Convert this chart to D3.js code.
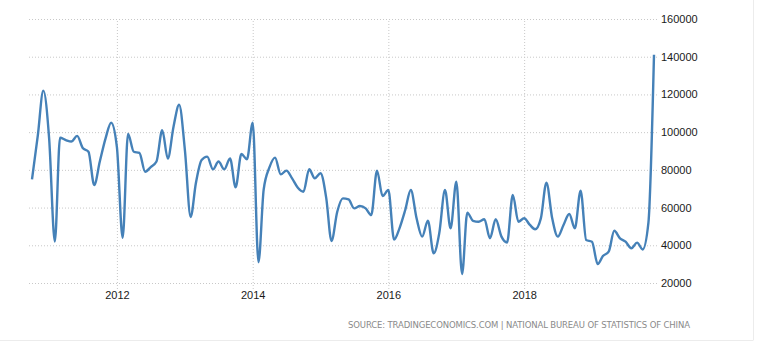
<!DOCTYPE html>
<html>
<head>
<meta charset="utf-8">
<script src="https://cdn.jsdelivr.net/npm/d3@7"></script>
<style>
  html, body { margin: 0; padding: 0; background: #fff; }
  svg { display: block; }
</style>
</head>
<body>
<div id="chart"></div>
<script>
// ---- Data: monthly values, Oct 2010 .. Dec 2019 ---------------------------
const startMonth = '2010-10';
const values = [
  75000, 98000, 122000, 97000, 42000, 97000, 95800, 95000, 98000, 91600, 89600, 72000,   // 2010-10 .. 2011-09
  84400, 96700, 105000, 92000, 44000, 99000, 89600, 89000, 79000, 81500, 84400, 101000,  // 2011-10 .. 2012-09
  86000, 103000, 114500, 90500, 55000, 72900, 85200, 87000, 80300, 84400, 80300, 86000,  // 2012-10 .. 2013-09
  70700, 88400, 85600, 105000, 31000, 69500, 81300, 86500, 77600, 79600, 75500, 70500,   // 2013-10 .. 2014-09
  68400, 80300, 75500, 78200, 64900, 42300, 57800, 64900, 64300, 59600, 60800, 59600,    // 2014-10 .. 2015-09
  56000, 79600, 66100, 69300, 43000, 49000, 58700, 69300, 54300, 44600, 53000, 35700,    // 2015-10 .. 2016-09
  46300, 69300, 49000, 73700, 24800, 57300, 53000, 52500, 53800, 43700, 53800, 44600,    // 2016-10 .. 2017-09
  41500, 66700, 52500, 54300, 50800, 48500, 54300, 73200, 54300, 44600, 50800, 56600,    // 2017-10 .. 2018-09
  49000, 69000, 42800, 41900, 30000, 34300, 36600, 47700, 43700, 41900, 38400, 41400,    // 2018-10 .. 2019-09
  37800, 52000, 141000                                                                   // 2019-10 .. 2019-12
];
const yearTicks = [2012, 2014, 2016, 2018];
const valueTicks = [20000, 40000, 60000, 80000, 100000, 120000, 140000, 160000];
const sourceText = 'SOURCE: TRADINGECONOMICS.COM | NATIONAL BUREAU OF STATISTICS OF CHINA';

// ---- Layout ---------------------------------------------------------------
const W = 762, H = 343;
const parseMonth = d3.timeParse('%Y-%m');
const t0 = parseMonth(startMonth);
const data = values.map((v, i) => ({ date: d3.timeMonth.offset(t0, i), value: v }));

const x = d3.scaleTime()
  .domain([data[0].date, data[data.length - 1].date])
  .range([32, 654]);
const y = d3.scaleLinear().domain([20000, 160000]).range([283, 19]);

const svg = d3.select('#chart').append('svg')
  .attr('width', W).attr('height', H);

// frame edges (right + bottom)
svg.append('line').attr('x1', 753.5).attr('x2', 753.5).attr('y1', 0).attr('y2', 340)
  .attr('stroke', '#ececec');
svg.append('line').attr('x1', 0).attr('x2', 753.5).attr('y1', 340.5).attr('y2', 340.5)
  .attr('stroke', '#ececec');

// horizontal grid + right labels
svg.append('g')
  .attr('transform', 'translate(657,0)')
  .call(d3.axisRight(y).tickValues(valueTicks).tickFormat(d3.format('d')).tickSize(-630).tickPadding(4))
  .call(g => g.select('.domain').remove())
  .call(g => g.selectAll('.tick line').attr('stroke', '#c8c8c8').attr('stroke-dasharray', '1,2'))
  .call(g => g.selectAll('text')
    .attr('fill', '#1a1a1a')
    .style('font-family', '"Liberation Sans", Arial, sans-serif')
    .style('font-size', '11px'));

// vertical grid + year labels
svg.append('g')
  .attr('transform', 'translate(0,289)')
  .call(d3.axisBottom(x)
    .tickValues(yearTicks.map(yr => new Date(yr, 0, 1)))
    .tickFormat(d3.timeFormat('%Y'))
    .tickSize(-270).tickPadding(2))
  .call(g => g.select('.domain').remove())
  .call(g => g.selectAll('.tick line').attr('stroke', '#c8c8c8').attr('stroke-dasharray', '1,2'))
  .call(g => g.selectAll('text')
    .attr('fill', '#1a1a1a')
    .style('font-family', '"Liberation Sans", Arial, sans-serif')
    .style('font-size', '11px'));

// series line
svg.append('path')
  .datum(data)
  .attr('fill', 'none')
  .attr('stroke', '#4581b8')
  .attr('stroke-width', 2.4)
  .attr('stroke-linejoin', 'round')
  .attr('d', d3.line()
    .x(d => x(d.date))
    .y(d => y(d.value))
    .curve(d3.curveMonotoneX));

// source note
svg.append('text')
  .attr('x', 348).attr('y', 328)
  .attr('textLength', 342).attr('lengthAdjust', 'spacing')
  .attr('fill', '#8a8a8a')
  .style('font-family', '"DejaVu Sans", Verdana, sans-serif')
  .style('font-size', '8.5px')
  .text(sourceText);
</script>
</body>
</html>
